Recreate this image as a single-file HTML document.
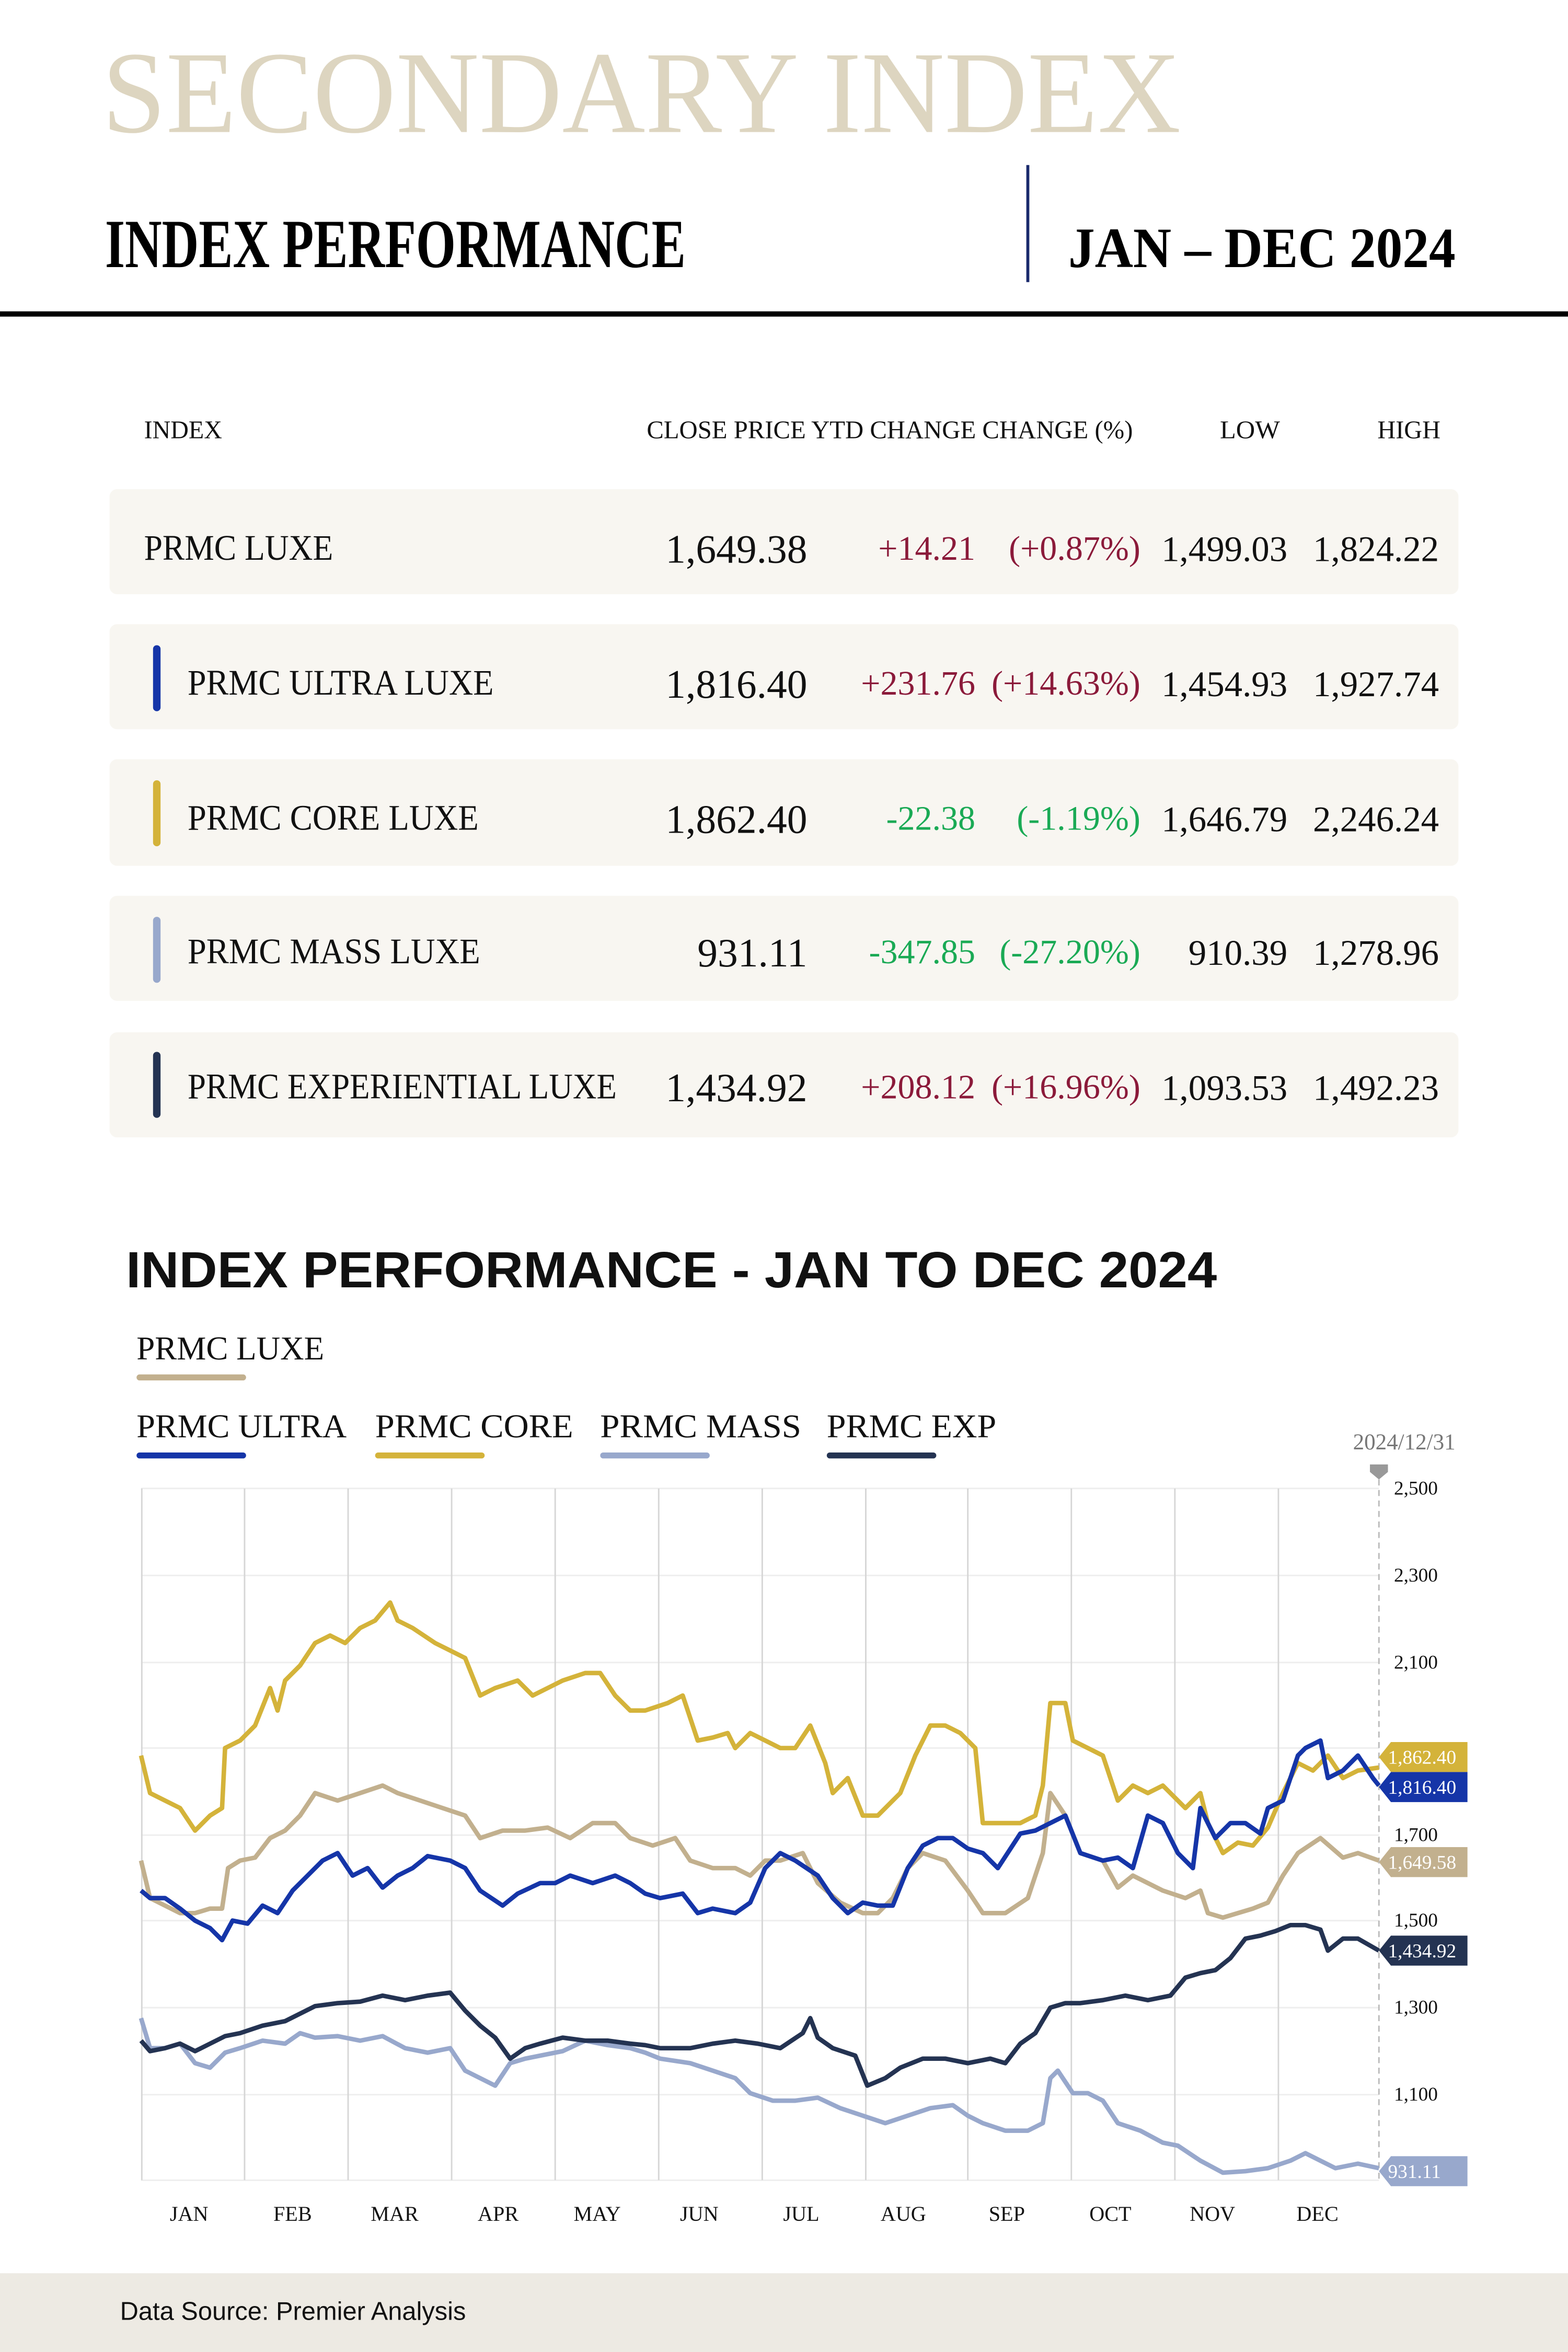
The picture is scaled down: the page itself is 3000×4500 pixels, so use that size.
<!DOCTYPE html>
<html><head><meta charset="utf-8"><style>html,body{margin:0;padding:0;background:#fff}svg{display:block}</style></head>
<body>
<svg xmlns="http://www.w3.org/2000/svg" width="3000" height="4500" viewBox="0 0 1045 1567.5" preserveAspectRatio="none">
<rect width="1045" height="1567.5" fill="#fff"/>
<text x="68" y="88" font-family="Liberation Serif, serif" font-size="78" fill="#ddd5c0" textLength="719" lengthAdjust="spacingAndGlyphs">SECONDARY INDEX</text>
<text x="70" y="178" font-family="Liberation Serif, serif" font-size="46" font-weight="bold" fill="#000" textLength="387" lengthAdjust="spacingAndGlyphs">INDEX PERFORMANCE</text>
<line x1="685" y1="110" x2="685" y2="188" stroke="#1a2a6c" stroke-width="2"/>
<text x="712" y="178" font-family="Liberation Serif, serif" font-size="38" font-weight="bold" fill="#000" textLength="258" lengthAdjust="spacingAndGlyphs">JAN – DEC 2024</text>
<rect x="0" y="207.5" width="1045" height="3.5" fill="#000"/>

<g font-family="Liberation Serif, serif" font-size="17" fill="#111">
<text x="96" y="292" textLength="52" lengthAdjust="spacingAndGlyphs">INDEX</text>
<text x="431" y="292" textLength="324" lengthAdjust="spacingAndGlyphs">CLOSE PRICE YTD CHANGE CHANGE (%)</text>
<text x="813" y="292" textLength="40" lengthAdjust="spacingAndGlyphs">LOW</text>
<text x="918" y="292" textLength="42" lengthAdjust="spacingAndGlyphs">HIGH</text>
</g>
<g fill="#f8f6f1">
<rect x="73" y="326" width="899" height="70" rx="5"/>
<rect x="73" y="416" width="899" height="70" rx="5"/>
<rect x="73" y="506" width="899" height="71" rx="5"/>
<rect x="73" y="597" width="899" height="70" rx="5"/>
<rect x="73" y="688" width="899" height="70" rx="5"/>
</g>
<rect x="102" y="430" width="5" height="44" rx="2.5" fill="#1535a8"/>
<rect x="102" y="520" width="5" height="44" rx="2.5" fill="#d4b33a"/>
<rect x="102" y="611" width="5" height="44" rx="2.5" fill="#98a8cc"/>
<rect x="102" y="701" width="5" height="44" rx="2.5" fill="#243352"/>
<g font-family="Liberation Serif, serif" font-size="24" fill="#111">
<text x="96" y="373" textLength="126" lengthAdjust="spacingAndGlyphs">PRMC LUXE</text>
<text x="125" y="463" textLength="204" lengthAdjust="spacingAndGlyphs">PRMC ULTRA LUXE</text>
<text x="125" y="553" textLength="194" lengthAdjust="spacingAndGlyphs">PRMC CORE LUXE</text>
<text x="125" y="642" textLength="195" lengthAdjust="spacingAndGlyphs">PRMC MASS LUXE</text>
<text x="125" y="732" textLength="286" lengthAdjust="spacingAndGlyphs">PRMC EXPERIENTIAL LUXE</text>
<g text-anchor="end" font-size="27">
<text x="538" y="375">1,649.38</text>
<text x="538" y="465">1,816.40</text>
<text x="538" y="555">1,862.40</text>
<text x="538" y="644">931.11</text>
<text x="538" y="734">1,434.92</text>
</g>
<g text-anchor="end" font-size="24">
<text x="858" y="374">1,499.03</text><text x="959" y="374">1,824.22</text>
<text x="858" y="464">1,454.93</text><text x="959" y="464">1,927.74</text>
<text x="858" y="554">1,646.79</text><text x="959" y="554">2,246.24</text>
<text x="858" y="643">910.39</text><text x="959" y="643">1,278.96</text>
<text x="858" y="733">1,093.53</text><text x="959" y="733">1,492.23</text>
</g>
<g text-anchor="end" font-size="23">
<text x="650" y="373" fill="#8b1a3a">+14.21</text><text x="760" y="373" fill="#8b1a3a">(+0.87%)</text>
<text x="650" y="463" fill="#8b1a3a">+231.76</text><text x="760" y="463" fill="#8b1a3a">(+14.63%)</text>
<text x="650" y="553" fill="#1aaa55">-22.38</text><text x="760" y="553" fill="#1aaa55">(-1.19%)</text>
<text x="650" y="642" fill="#1aaa55">-347.85</text><text x="760" y="642" fill="#1aaa55">(-27.20%)</text>
<text x="650" y="732" fill="#8b1a3a">+208.12</text><text x="760" y="732" fill="#8b1a3a">(+16.96%)</text>
</g>
</g>

<text x="84" y="858" font-family="Liberation Sans, sans-serif" font-size="34" font-weight="bold" fill="#111" textLength="727" lengthAdjust="spacingAndGlyphs">INDEX PERFORMANCE - JAN TO DEC 2024</text>
<g font-family="Liberation Serif, serif" font-size="22" fill="#111">
<text x="91" y="906" textLength="125" lengthAdjust="spacingAndGlyphs">PRMC LUXE</text>
<text x="91" y="958" textLength="140" lengthAdjust="spacingAndGlyphs">PRMC ULTRA</text>
<text x="250" y="958" textLength="132" lengthAdjust="spacingAndGlyphs">PRMC CORE</text>
<text x="400" y="958" textLength="134" lengthAdjust="spacingAndGlyphs">PRMC MASS</text>
<text x="551" y="958" textLength="113" lengthAdjust="spacingAndGlyphs">PRMC EXP</text>
</g>
<g stroke-width="4" stroke-linecap="round">
<line x1="93" y1="918" x2="162" y2="918" stroke="#c2b08e"/>
<line x1="93" y1="970" x2="162" y2="970" stroke="#1535a8"/>
<line x1="252" y1="970" x2="321" y2="970" stroke="#d4b33a"/>
<line x1="402" y1="970" x2="471" y2="970" stroke="#98a8cc"/>
<line x1="553" y1="970" x2="622" y2="970" stroke="#243352"/>
</g>
<text x="970" y="966" text-anchor="end" font-family="Liberation Serif, serif" font-size="15" fill="#777">2024/12/31</text>
<polygon points="913,976 925,976 925,981 919,986 913,981" fill="#999"/>

<g stroke="#eee" stroke-width="1">
<line x1="94" y1="992" x2="919" y2="992"/><line x1="94" y1="1050" x2="919" y2="1050"/>
<line x1="94" y1="1108" x2="919" y2="1108"/><line x1="94" y1="1165" x2="919" y2="1165"/>
<line x1="94" y1="1223" x2="919" y2="1223"/><line x1="94" y1="1280" x2="919" y2="1280"/>
<line x1="94" y1="1338" x2="919" y2="1338"/><line x1="94" y1="1396" x2="919" y2="1396"/>
<line x1="94" y1="1453" x2="919" y2="1453"/>
</g>
<g stroke="#d6d6d6" stroke-width="1">
<line x1="94.5" y1="992" x2="94.5" y2="1453"/><line x1="163" y1="992" x2="163" y2="1453"/>
<line x1="232" y1="992" x2="232" y2="1453"/><line x1="301" y1="992" x2="301" y2="1453"/>
<line x1="370" y1="992" x2="370" y2="1453"/><line x1="439" y1="992" x2="439" y2="1453"/>
<line x1="508" y1="992" x2="508" y2="1453"/><line x1="577" y1="992" x2="577" y2="1453"/>
<line x1="645" y1="992" x2="645" y2="1453"/><line x1="714" y1="992" x2="714" y2="1453"/>
<line x1="783" y1="992" x2="783" y2="1453"/><line x1="852" y1="992" x2="852" y2="1453"/>
</g>
<line x1="919" y1="986" x2="919" y2="1453" stroke="#bbb" stroke-width="1" stroke-dasharray="4,3"/>
<g font-family="Liberation Serif, serif" font-size="13" fill="#111">
<text x="929" y="996">2,500</text><text x="929" y="1054">2,300</text><text x="929" y="1112">2,100</text>
<text x="929" y="1227">1,700</text><text x="929" y="1284">1,500</text><text x="929" y="1342">1,300</text>
<text x="929" y="1400">1,100</text>
</g>
<g font-family="Liberation Serif, serif" font-size="14" fill="#111" text-anchor="middle">
<text x="126" y="1480">JAN</text><text x="195" y="1480">FEB</text><text x="263" y="1480">MAR</text>
<text x="332" y="1480">APR</text><text x="398" y="1480">MAY</text><text x="466" y="1480">JUN</text>
<text x="534" y="1480">JUL</text><text x="602" y="1480">AUG</text><text x="671" y="1480">SEP</text>
<text x="740" y="1480">OCT</text><text x="808" y="1480">NOV</text><text x="878" y="1480">DEC</text>
</g>

<g fill="none" stroke-width="3" stroke-linejoin="round">
<polyline stroke="#98a8cc" points="94,1345 100,1365 110,1365 120,1362 130,1375 140,1378 150,1368 160,1365 175,1360 190,1362 200,1355 210,1358 225,1357 240,1360 255,1357 270,1365 285,1368 300,1365 310,1380 320,1385 330,1390 340,1375 350,1372 360,1370 375,1367 390,1360 405,1363 420,1365 430,1368 440,1372 460,1375 475,1380 490,1385 500,1395 515,1400 530,1400 545,1398 560,1405 575,1410 590,1415 605,1410 620,1405 635,1403 645,1410 655,1415 670,1420 685,1420 695,1415 700,1385 705,1380 715,1395 725,1395 735,1400 745,1415 760,1420 775,1428 785,1430 800,1440 815,1448 830,1447 845,1445 860,1440 870,1435 880,1440 890,1445 905,1442 919,1445"/>
<polyline stroke="#243352" points="94,1360 100,1367 110,1365 120,1362 130,1367 140,1362 150,1357 160,1355 175,1350 190,1347 200,1342 210,1337 225,1335 240,1334 255,1330 270,1333 285,1330 300,1328 310,1340 320,1350 330,1358 340,1372 350,1365 360,1362 375,1358 390,1360 405,1360 420,1362 430,1363 440,1365 460,1365 475,1362 490,1360 505,1362 520,1365 535,1355 540,1345 545,1358 555,1365 570,1370 578,1390 590,1385 600,1378 615,1372 630,1372 645,1375 660,1372 670,1375 680,1362 690,1355 700,1338 710,1335 720,1335 735,1333 750,1330 765,1333 780,1330 790,1318 800,1315 810,1313 820,1305 830,1292 840,1290 850,1287 860,1283 870,1283 880,1286 885,1300 895,1292 905,1292 919,1300"/>
<polyline stroke="#c2b08e" points="94,1240 100,1265 110,1270 120,1275 130,1275 140,1272 148,1272 152,1245 160,1240 170,1238 180,1225 190,1220 200,1210 210,1195 225,1200 240,1195 255,1190 265,1195 280,1200 295,1205 310,1210 320,1225 335,1220 350,1220 365,1218 380,1225 395,1215 410,1215 420,1225 435,1230 450,1225 460,1240 475,1245 490,1245 500,1250 510,1240 520,1240 535,1235 545,1255 560,1268 575,1275 585,1275 595,1265 605,1245 615,1235 630,1240 645,1260 655,1275 670,1275 685,1265 695,1235 700,1195 710,1210 720,1235 735,1240 745,1258 755,1250 765,1255 775,1260 790,1265 800,1260 805,1275 815,1278 825,1275 835,1272 845,1268 855,1250 865,1235 880,1225 895,1238 905,1235 919,1240"/>
<polyline stroke="#d4b33a" points="94,1170 100,1195 110,1200 120,1205 130,1220 140,1210 148,1205 150,1165 160,1160 170,1150 180,1125 185,1140 190,1120 200,1110 210,1095 220,1090 230,1095 240,1085 250,1080 260,1068 265,1080 275,1085 290,1095 300,1100 310,1105 320,1130 330,1125 345,1120 355,1130 365,1125 375,1120 390,1115 400,1115 410,1130 420,1140 430,1140 445,1135 455,1130 465,1160 475,1158 485,1155 490,1165 500,1155 510,1160 520,1165 530,1165 540,1150 550,1175 555,1195 565,1185 575,1210 585,1210 600,1195 610,1170 620,1150 630,1150 640,1155 650,1165 655,1215 665,1215 680,1215 690,1210 695,1190 700,1135 710,1135 715,1160 725,1165 735,1170 745,1200 755,1190 765,1195 775,1190 790,1205 800,1195 805,1215 815,1235 825,1228 835,1230 845,1218 855,1195 865,1175 875,1180 885,1170 895,1185 905,1180 919,1178"/>
<polyline stroke="#1535a8" points="94,1260 100,1265 110,1265 120,1272 130,1280 140,1285 148,1293 155,1280 165,1282 175,1270 185,1275 195,1260 205,1250 215,1240 225,1235 235,1250 245,1245 255,1258 265,1250 275,1245 285,1237 300,1240 310,1245 320,1260 335,1270 345,1262 360,1255 370,1255 380,1250 395,1255 410,1250 420,1255 430,1262 440,1265 455,1262 465,1275 475,1272 490,1275 500,1268 510,1245 520,1235 530,1240 545,1250 555,1265 565,1275 575,1268 585,1270 595,1270 605,1245 615,1230 625,1225 635,1225 645,1232 655,1235 665,1245 680,1222 690,1220 700,1215 710,1210 720,1235 735,1240 745,1238 755,1245 765,1210 775,1215 785,1235 795,1245 800,1205 810,1225 820,1215 830,1215 840,1222 845,1205 855,1200 865,1170 870,1165 880,1160 885,1185 895,1180 905,1170 915,1185 919,1190"/>
</g>

<g font-family="Liberation Serif, serif" font-size="13" fill="#fff">
<polygon points="919,1171 927,1161 978,1161 978,1181 927,1181" fill="#d4b33a"/><text x="925" y="1175.5">1,862.40</text>
<polygon points="919,1191 927,1181 978,1181 978,1201 927,1201" fill="#1535a8"/><text x="925" y="1195.5">1,816.40</text>
<polygon points="919,1241 927,1231 978,1231 978,1251 927,1251" fill="#c2b08e"/><text x="925" y="1245.5">1,649.58</text>
<polygon points="919,1300 927,1290 978,1290 978,1310 927,1310" fill="#243352"/><text x="925" y="1304.5">1,434.92</text>
<polygon points="919,1447 927,1437 978,1437 978,1457 927,1457" fill="#98a8cc"/><text x="925" y="1451.5">931.11</text>
</g>

<rect x="0" y="1515" width="1045" height="53" fill="#edeae3"/>
<text x="80" y="1546" font-family="Liberation Sans, sans-serif" font-size="17" fill="#111">Data Source: Premier Analysis</text>
</svg>
</body></html>
